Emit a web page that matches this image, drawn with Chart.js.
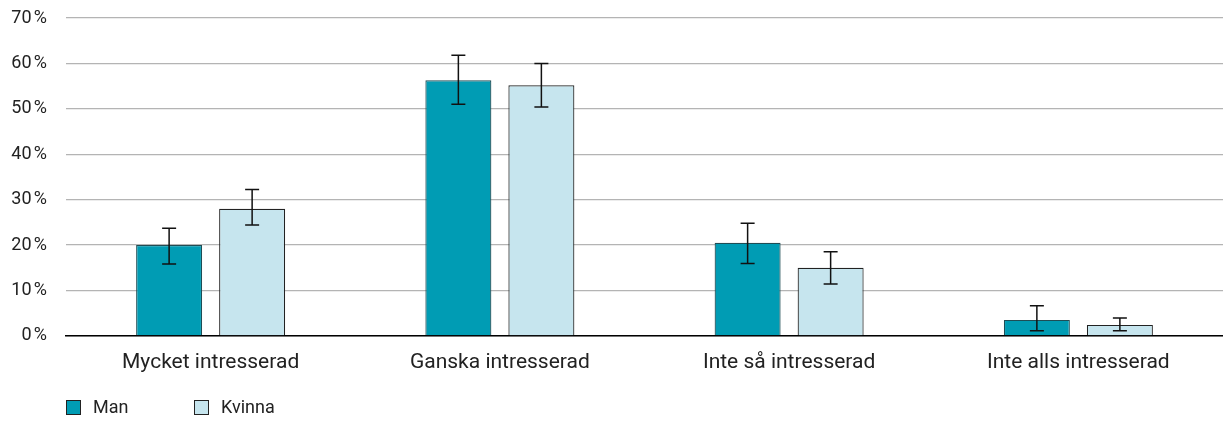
<!DOCTYPE html>
<html>
<head>
<meta charset="utf-8">
<script src="https://cdn.jsdelivr.net/npm/chart.js@4/dist/chart.umd.min.js"></script>
<style>
  html, body { margin: 0; padding: 0; background: #fff; }
  #wrap { position: relative; width: 1223px; height: 434px; }
  canvas { position: absolute; left: 0; top: 0; }
  .lg { position: absolute; top: 398px; height: 18px; font: 18px Roboto, sans-serif; color: #222; line-height: 18px; white-space: nowrap; }
  .lg i { display: inline-block; width: 13px; height: 13px; border: 1px solid #222; vertical-align: top; margin-top: 2px; margin-right: 12px; }
</style>
</head>
<body>
<div id="wrap">
  <canvas id="c" width="1223" height="434"></canvas>
  <div class="lg" id="lg0" style="left:66px"><i></i><span></span></div>
  <div class="lg" id="lg1" style="left:194px"><i></i><span></span></div>
</div>
<script>
const categories = ["Mycket intresserad", "Ganska intresserad", "Inte så intresserad", "Inte alls intresserad"];
const seriesNames = ["Man", "Kvinna"];
const seriesColors = ["#009cb4", "#c6e5ee"];
const manValues = [20.0, 56.3, 20.5, 3.5];
const manLow = [15.8, 51.0, 15.9, 1.1];
const manHigh = [23.7, 61.8, 24.8, 6.6];
const kvinnaValues = [28.0, 55.2, 15.0, 2.4];
const kvinnaLow = [24.4, 50.4, 11.4, 1.1];
const kvinnaHigh = [32.2, 60.0, 18.5, 3.9];
const yTicks = [0, 10, 20, 30, 40, 50, 60, 70];

seriesNames.forEach((n, i) => {
  const el = document.getElementById('lg' + i);
  el.querySelector('i').style.background = seriesColors[i];
  el.querySelector('span').textContent = n;
});

const errorBars = {
  id: 'errorBars',
  afterDatasetsDraw(chart) {
    const ctx = chart.ctx;
    const ys = chart.scales.y;
    chart.data.datasets.forEach((ds, di) => {
      const meta = chart.getDatasetMeta(di);
      meta.data.forEach((bar, i) => {
        const yl = ys.getPixelForValue(ds.errLow[i]);
        const yh = ys.getPixelForValue(ds.errHigh[i]);
        const x = bar.x;
        ctx.save();
        ctx.strokeStyle = '#111';
        ctx.lineWidth = 1.5;
        ctx.beginPath();
        ctx.moveTo(x, yl); ctx.lineTo(x, yh);
        ctx.moveTo(x - 7, yl); ctx.lineTo(x + 7, yl);
        ctx.moveTo(x - 7, yh); ctx.lineTo(x + 7, yh);
        ctx.stroke();
        ctx.restore();
      });
    });
  }
};

new Chart(document.getElementById('c'), {
  type: 'bar',
  data: {
    labels: categories,
    datasets: [
      { label: seriesNames[0], data: manValues, errLow: manLow, errHigh: manHigh,
        backgroundColor: seriesColors[0], borderColor: '#1f4d55', borderWidth: 1.2,
        categoryPercentage: 0.574, barPercentage: 0.795 },
      { label: seriesNames[1], data: kvinnaValues, errLow: kvinnaLow, errHigh: kvinnaHigh,
        backgroundColor: seriesColors[1], borderColor: '#222', borderWidth: 1.2,
        categoryPercentage: 0.574, barPercentage: 0.795 }
    ]
  },
  options: {
    responsive: false,
    animation: false,
    layout: { padding: { left: 0, right: 0, top: 18, bottom: 53 } },
    plugins: {
      tooltip: { enabled: false },
      legend: { display: false }
    },
    scales: {
      x: {
        grid: { display: false },
        border: { color: '#000', width: 1.5 },
        ticks: { color: '#222', font: { family: 'Roboto', size: 21 }, padding: 6 }
      },
      y: {
        min: 0, max: 70,
        afterBuildTicks(scale) { scale.ticks = yTicks.map(v => ({ value: v })); },
        afterFit(scale) { scale.width = 66; scale.paddingTop = 0; },
        border: { display: false },
        grid: { color: '#b4b4b4', lineWidth: 1.2, drawTicks: false },
        ticks: {
          color: '#222', font: { family: 'Roboto', size: 18 }, padding: 19,
          callback: v => v + '\u202F%'
        }
      }
    }
  },
  plugins: [errorBars]
});
</script>
</body>
</html>
